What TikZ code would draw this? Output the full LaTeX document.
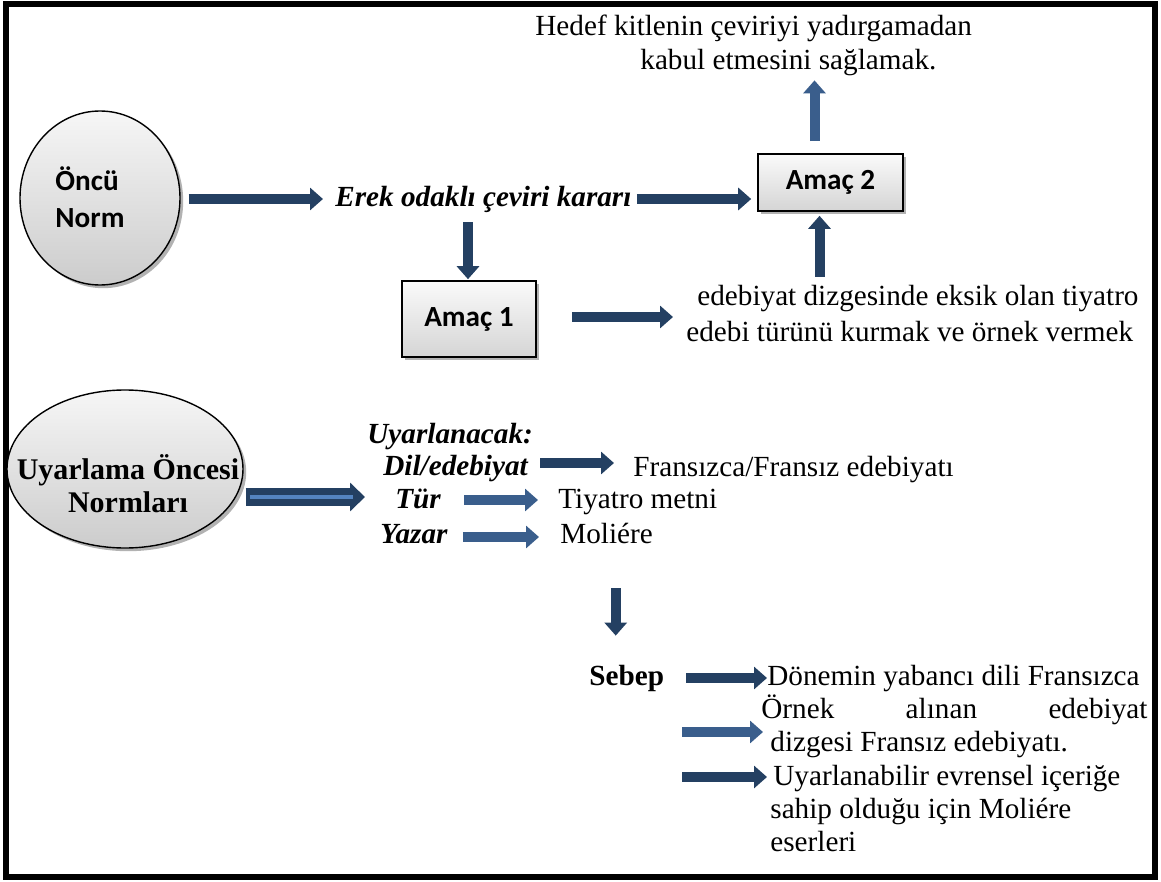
\documentclass[tikz,border=0pt]{standalone}
\usepackage{fontspec}
\setmainfont{Liberation Serif}
\newfontfamily\calibrifont{Carlito}
\usetikzlibrary{arrows.meta,shapes.geometric,shadows,calc}
\definecolor{navy}{RGB}{36,64,98}
\definecolor{midblue}{RGB}{58,94,140}
\definecolor{innerblue}{RGB}{84,132,192}
\begin{document}
\begin{tikzpicture}[x=0.5pt,y=-0.5pt,
  txt/.style={inner sep=0pt, text height=11pt, text depth=3pt, anchor=west,
    font=\fontsize{14.6}{17}\selectfont},
  bitxt/.style={txt, font=\fontsize{14.6}{17}\selectfont\bfseries\itshape},
  btxt/.style={txt, font=\fontsize{14.6}{17}\selectfont\bfseries},
  boxn/.style={draw=black, line width=0.8pt, top color=gray!4, bottom color=gray!33,
    drop shadow={shadow xshift=1.6pt, shadow yshift=-1.6pt, fill=gray!75, opacity=0.8},
    font=\calibrifont\bfseries\fontsize{14.6}{17}\selectfont, inner sep=0pt},
  circn/.style={ellipse, draw=black, line width=0.7pt, top color=gray!7, bottom color=gray!40,
    drop shadow={shadow xshift=1.6pt, shadow yshift=-1.6pt, fill=gray!75, opacity=0.8}, inner sep=0pt},
  barrow/.style={line width=5pt, -{Triangle[length=6.5pt,width=11pt]}},
  darrow/.style={barrow, draw=navy},
  marrow/.style={barrow, draw=midblue},
]
\useasboundingbox (0,0) rectangle (1161,882);
\draw[line width=2.6pt] (6,4) rectangle (1155,877);

% --- top part ---
\node[circn, minimum width=80pt, minimum height=87pt] (oncu) at (100,198) {};
\node[inner sep=0pt, align=left, font=\calibrifont\bfseries\fontsize{14.6}{18.5}\selectfont] (oncutxt) at (90,197) {Öncü\\Norm};
\node[bitxt] (erek) at (335,199) {Erek odaklı çeviri kararı};
\node[boxn, minimum width=72.5pt, minimum height=28.5pt] (amac2) at (830.5,182.5) {Amaç 2};
\node[txt] (hedef1) at (535,28) {Hedef kitlenin çeviriyi yadırgamadan};
\node[txt] (hedef2) at (640,62) {kabul etmesini sağlamak.};
\node[boxn, minimum width=67pt, minimum height=38pt] (amac1) at (469,319) {Amaç 1};
\node[txt] (edeb1) at (697,298) {edebiyat dizgesinde eksik olan tiyatro};
\node[txt] (edeb2) at (686,333) {edebi türünü kurmak ve örnek vermek};

\draw[darrow] ($(oncu.east)+(8,1)$) -- ($(erek.west)+(-12,0)$);
\draw[darrow] ($(erek.east)+(5,0)$) -- ($(amac2.west |- erek.west)+(-6,0)$);
\draw[marrow] ($(amac2.north)+(-16,-12)$) -- ($(amac2.north |- hedef2.south)+(-16,4)$);
\draw[darrow] ($(amac2.south |- edeb1.north)+(-11,-7)$) -- ($(amac2.south)+(-11,4)$);
\draw[darrow] ($(amac1.north |- erek.south)+(-1,9)$) -- ($(amac1.north)+(-1,-1)$);
\draw[darrow] ($(amac1.east)+(35,-2)$) -- ($(amac1.east -| edeb2.west)+(-13,-2)$);

% --- lower part ---
\node[circn, minimum width=118pt, minimum height=79pt] (uyarlama) at (125,469) {};
\node[inner sep=0pt, align=center, font=\fontsize{15}{16.5}\selectfont\bfseries] (uyartxt) at (128,484) {Uyarlama Öncesi\\Normları};
\node[bitxt] (uyarl) at (367,435) {Uyarlanacak:};
\node[bitxt] (dil) at (383,467) {Dil/edebiyat};
\node[txt] (fr) at (633,468) {Fransızca/Fransız edebiyatı};
\node[bitxt] (tur) at (395,500) {Tür};
\node[txt] (tiy) at (558,500) {Tiyatro metni};
\node[bitxt] (yazar) at (380,535) {Yazar};
\node[txt] (mol) at (560,535) {Moliére};

\draw[line width=9pt, draw=navy, -{Triangle[length=7.5pt,width=14pt]}]
  ($(uyarlama.east)+(2,28)$) -- ($(uyarlama.east -| uyarl.west)+(-2,28)$);
\draw[line width=2pt, draw=innerblue]
  ($(uyarlama.east)+(6,28)$) -- ($(uyarlama.east -| uyarl.west)+(-14,28)$);
\draw[darrow] ($(dil.east)+(12,-4)$) -- ($(fr.west)+(-19,-5)$);
\draw[marrow] ($(tur.east)+(23,0)$) -- ($(tiy.west)+(-20,0)$);
\draw[marrow] ($(yazar.east)+(15,2)$) -- ($(mol.west)+(-21,2)$);

\node[btxt] (sebep) at (589,677) {Sebep};
\node[txt] (don) at (767,677) {Dönemin yabancı dili Fransızca};
\node[txt] (ornek) at (761,710) {\makebox[193pt][s]{Örnek alınan edebiyat}};
\node[txt] (dizg) at (770,743) {dizgesi Fransız edebiyatı.};
\node[txt] (uyar1) at (773,777) {Uyarlanabilir evrensel içeriğe};
\node[txt] (sahip) at (770,810) {sahip olduğu için Moliére};
\node[txt] (eser) at (770,843) {eserleri};

\draw[darrow] ($(sebep.north |- mol.south)+(-11,39)$) -- ($(sebep.north)+(-11,-27)$);
\draw[darrow] ($(sebep.east)+(22,1)$) -- ($(don.west)+(0,1)$);
\draw[marrow] ($(sebep.east |- dizg.west)+(18,-11)$) -- ($(dizg.west)+(-7,-11)$);
\draw[darrow] ($(sebep.east |- uyar1.west)+(18,0)$) -- ($(uyar1.west)+(-6,0)$);
\end{tikzpicture}
\end{document}
